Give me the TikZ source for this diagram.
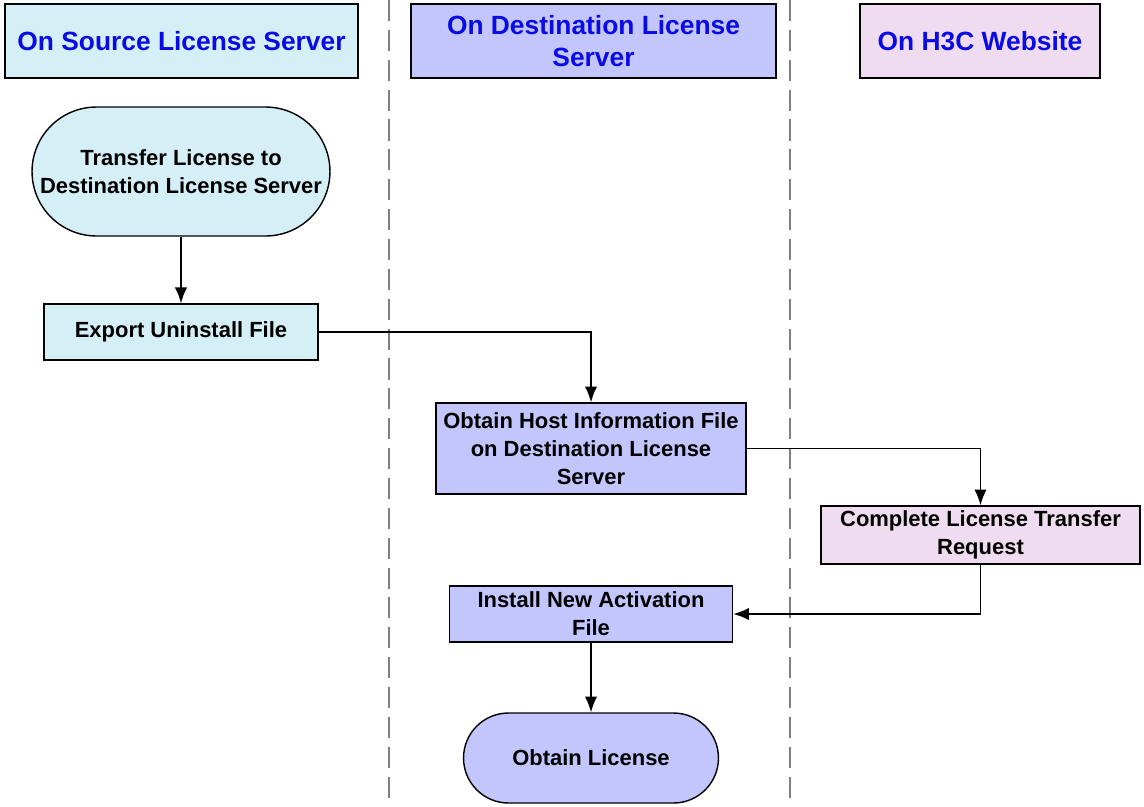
\documentclass[tikz,border=0pt]{standalone}
\usepackage{fontspec}
\setmainfont{Liberation Sans}
\usepackage{tikz}
\usetikzlibrary{shapes, arrows.meta, positioning}
\definecolor{srccol}{HTML}{D5EFF6}
\definecolor{dstcol}{HTML}{C3C6FD}
\definecolor{webcol}{HTML}{F0DCF0}
\definecolor{titleblue}{HTML}{0A0AE6}
\tikzstyle{lanetitle} = [draw, line width=0.9pt, rectangle, align=center, text=titleblue, font=\fontsize{15}{18}\selectfont\bfseries, minimum height=1.48cm, inner sep=2pt]
\tikzstyle{stepbox} = [draw, line width=0.8pt, rectangle, align=center, font=\fontsize{12.5}{16}\selectfont\bfseries, inner sep=1pt]
\tikzstyle{terminal} = [draw, line width=0.8pt, rectangle, align=center, font=\fontsize{12.5}{16}\selectfont\bfseries, inner sep=1pt]
\tikzstyle{lanesep} = [gray, line width=0.8pt, dash pattern=on 12pt off 5pt]
\tikzstyle{flow} = [line width=0.9pt, -{Latex[length=9pt,width=7pt]}]

\begin{document}
\begin{tikzpicture}[x=0.02cm, y=-0.02cm]
	\useasboundingbox (0,0) rectangle (1144,806);
	% swimlane separators
	\draw[lanesep] (389,0) -- (389,806);
	\draw[lanesep] (790,0) -- (790,806);
	% lane titles
	\node[lanetitle, fill=srccol, minimum width=7.06cm] (srctitle) at (181.5,41) {On Source License Server};
	\node[lanetitle, fill=dstcol, minimum width=7.3cm] (dsttitle) at (593.5,41) {On Destination License\\Server};
	\node[lanetitle, fill=webcol, minimum width=4.8cm] (webtitle) at (980,41) {On H3C Website};
	% steps
	\node[terminal, fill=srccol, minimum width=5.96cm, minimum height=2.58cm, rounded corners=1.29cm] (transfer) at (181,171.5) {Transfer License to\\Destination License Server};
	\node[stepbox, fill=srccol, minimum width=5.48cm, minimum height=1.12cm] (export) at (181,332) {Export Uninstall File};
	\node[stepbox, fill=dstcol, minimum width=6.2cm, minimum height=1.82cm] (hostinfo) at (591,448.5) {Obtain Host Information File\\on Destination License\\Server};
	\node[stepbox, fill=webcol, minimum width=6.38cm, minimum height=1.16cm] (request) at (980.5,535) {Complete License Transfer\\Request};
	\node[stepbox, fill=dstcol, minimum width=5.66cm, minimum height=1.12cm] (install) at (591,614) {Install New Activation\\File};
	\node[terminal, fill=dstcol, minimum width=5.1cm, minimum height=1.8cm, rounded corners=0.9cm] (obtain) at (591,758) {Obtain License};
	% connectors
	\draw[flow] (transfer) -- (export);
	\draw[flow] (export.east) -| (hostinfo.north);
	\draw[flow] (hostinfo.east) -| (request.north);
	\draw[flow] (request.south) |- (install.east);
	\draw[flow] (install) -- (obtain);
\end{tikzpicture}
\end{document}
